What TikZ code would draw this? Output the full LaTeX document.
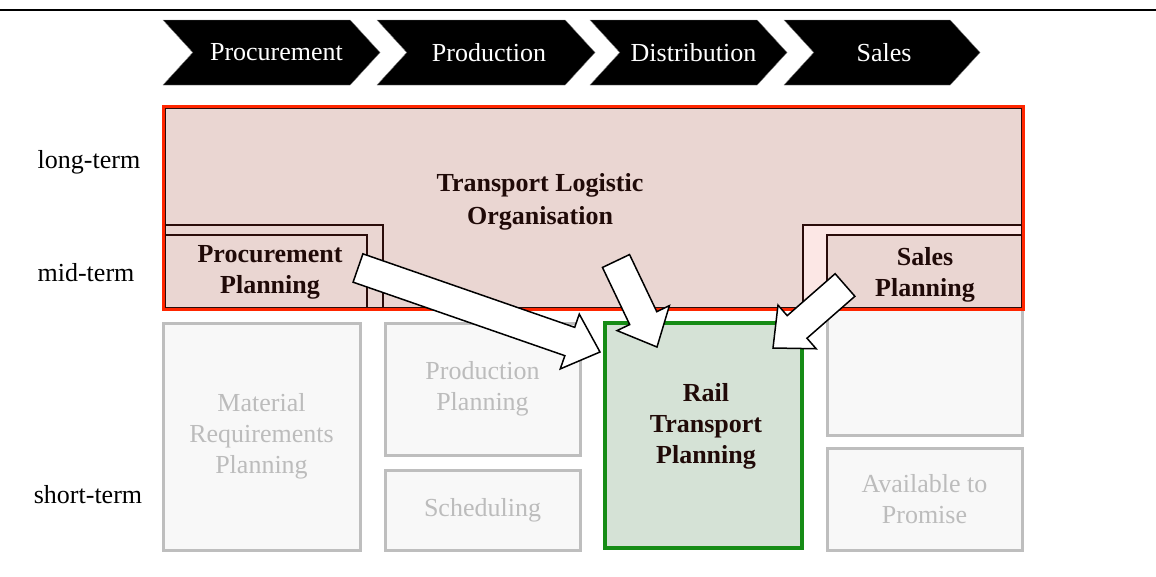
\documentclass[tikz,border=0pt]{standalone}
\usepackage{fontspec}
\setmainfont{Liberation Serif}
\usepackage{tikz}
\usetikzlibrary{calc,shapes.symbols,shadows}

\definecolor{pinkfill}{RGB}{234,214,210}
\definecolor{lightpink}{RGB}{252,231,229}
\definecolor{redline}{RGB}{255,38,0}
\definecolor{darkline}{RGB}{42,12,10}
\definecolor{grayfill}{RGB}{248,248,248}
\definecolor{grayline}{RGB}{190,190,190}
\definecolor{graytext}{RGB}{188,188,188}
\definecolor{greenfill}{RGB}{213,226,214}
\definecolor{greenline}{RGB}{22,140,22}
\definecolor{boldtext}{RGB}{32,10,8}

% white block arrow from tail to tip
\newcommand{\blockarrow}[3]{%
  \coordinate (#1base) at ($(#3)!32pt!(#2)$);
  \draw[block arrow] ($(#2)!15pt!90:(#3)$) -- ($(#1base)!15pt!90:(#3)$)
    -- ($(#1base)!29pt!90:(#3)$) -- (#3) -- ($(#1base)!29pt!-90:(#3)$)
    -- ($(#1base)!15pt!-90:(#3)$) -- ($(#2)!15pt!-90:(#3)$) -- cycle;
}

\begin{document}
\begin{tikzpicture}[x=1pt,y=-1pt,font=\fontsize{26pt}{31pt}\selectfont,
  chevron/.style={signal,signal from=west,signal to=east,signal pointer angle=95,fill=black,draw=gray,thin,text=white,minimum height=65pt,inner sep=0pt},
  level/.style={text=black},
  pinkbox/.style={rectangle,fill=pinkfill,draw=darkline,line width=2.5pt,inner sep=0pt},
  boldlabel/.style={align=center,text=boldtext,font=\fontsize{26pt}{31pt}\selectfont\bfseries},
  graybox/.style={rectangle,fill=grayfill,draw=grayline,line width=3pt,inner sep=0pt,align=center,text=graytext,drop shadow={shadow xshift=2pt,shadow yshift=-2pt,opacity=0.12}},
  block arrow/.style={draw=black,fill=white,line width=1.5pt,line join=miter}]
\tikzstyle{railbox} = [rectangle,fill=greenfill,draw=greenline,line width=4pt,inner sep=0pt,drop shadow={shadow xshift=2pt,shadow yshift=-2pt,opacity=0.15}]

\useasboundingbox (0,0) rectangle (1156,576);

\coordinate (lineleft) at (0,10);
\coordinate (lineright) at (1156,10);

% Top rule
\draw[line width=2.5pt] (lineleft) -- (lineright);

% Value chain
\node[chevron,minimum width=217pt] (procure) at (271.5,52.5) {\hspace{10pt}Procurement};
\node[chevron,minimum width=218pt] (produce) at (486,52.5) {\hspace{6pt}Production};
\node[chevron,minimum width=197pt] (distrib) at (688.5,52.5) {\hspace{10pt}Distribution};
\node[chevron,minimum width=196pt] (sales) at (882,52.5) {\hspace{4pt}Sales};

% Planning horizons
\node[level] (long) at (89,162) {long-term};
\node[level] (mid) at (86,273) {mid-term};
\node[level] (short) at (88,495) {short-term};

% Short-term tasks
\node[graybox,minimum width=195pt,minimum height=135pt] (salesshort) at (924.5,367.5) {};
\node[graybox,minimum width=197pt,minimum height=227pt] (mrp) at (261.5,436.5) {Material\\Requirements\\Planning};
\node[graybox,minimum width=195pt,minimum height=132pt] (prodplan) at (482.5,389) {Production\\Planning};
\node[graybox,minimum width=195pt,minimum height=80pt] (sched) at (482.5,510) {Scheduling};
\node[graybox,minimum width=195pt,minimum height=102pt] (atp) at (924.5,499) {Available to\\Promise};
\node[railbox,minimum width=197pt,minimum height=225pt] (rail) at (703.5,435.5) {};
\node[boldlabel] (railtext) at (706,426) {Rail\\Transport\\Planning};

% Long- and mid-term tasks
\node[pinkbox,minimum width=857pt,minimum height=200pt] (tlo) at (593.5,208) {};
\node[pinkbox,minimum width=218pt,minimum height=83pt] (procouter) at (274,266.5) {};
\node[pinkbox,minimum width=202pt,minimum height=73pt] (procplan) at (266,271.5) {};
\node[pinkbox,fill=lightpink,minimum width=219pt,minimum height=83pt] (salesouter) at (912.5,266.5) {};
\node[pinkbox,minimum width=195pt,minimum height=73pt] (salesplan) at (924.5,271.5) {};
\node[boldlabel] (procplantext) at (270,272.5) {Procurement\\Planning};
\node[boldlabel] (salesplantext) at (925,275) {Sales\\Planning};
\node[boldlabel,font=\fontsize{26pt}{33pt}\selectfont\bfseries] (tlotext) at (540,202) {Transport Logistic\\Organisation};
\draw[draw=redline,line width=3pt] (tlo.north west) rectangle (tlo.south east);

% Arrows into rail transport planning
\coordinate (procend) at (358,268);
\coordinate (procpoint) at (600,352);
\coordinate (tloend) at (616,261);
\coordinate (tlopoint) at (657,347);
\coordinate (salesend) at (845,285);
\coordinate (salespoint) at (773,348);

\blockarrow{a}{procend}{procpoint}
\blockarrow{b}{tloend}{tlopoint}
\blockarrow{c}{salesend}{salespoint}

\end{tikzpicture}
\end{document}
